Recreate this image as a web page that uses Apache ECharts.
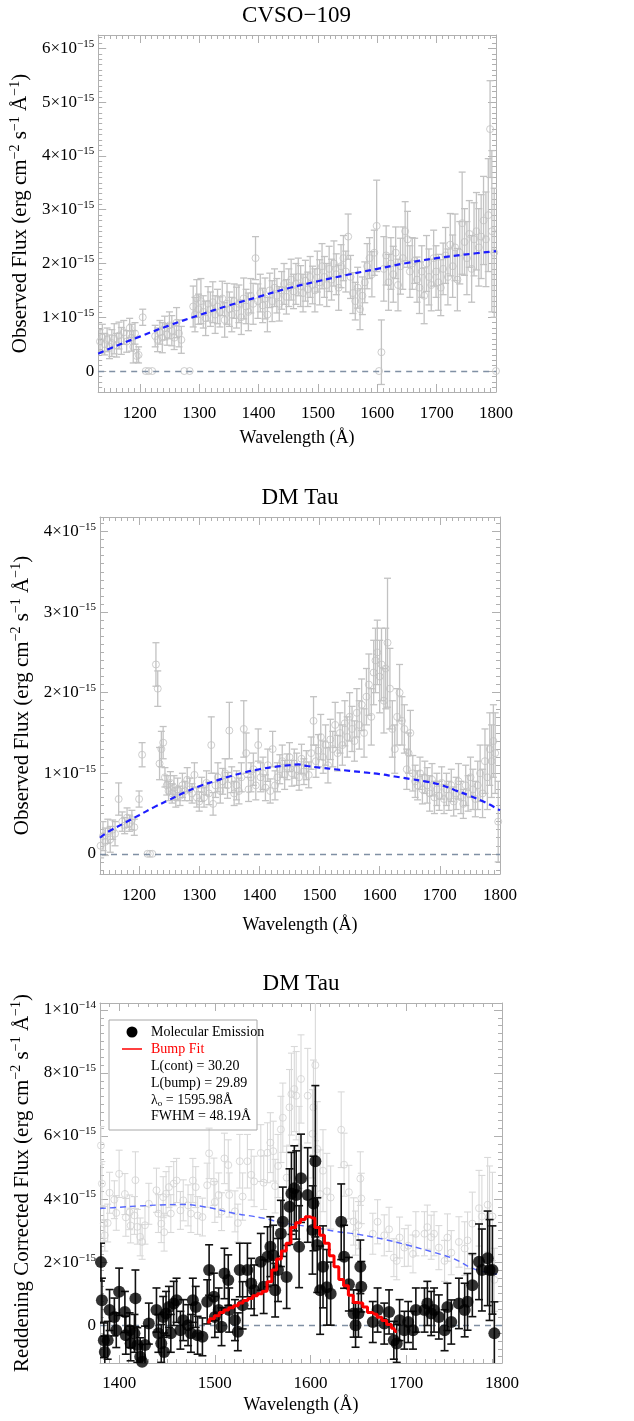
<!DOCTYPE html>
<html><head><meta charset="utf-8">
<script src="https://cdn.jsdelivr.net/npm/echarts@6/dist/echarts.min.js"></script>
<style>html,body{margin:0;padding:0;background:#fff}#c{width:634px;height:1421px}</style>
</head><body><div id="c"></div>
<script>
// ---------- Panel 1: CVSO-109 observed flux (units of 1e-15) ----------
const lam1 = [1133,1137,1141,1145,1149,1153,1157,1161,1165,1169,
1173,1178,1183,1186,1189,1192,1195,1198,1205,1210,
1215,1221,1226,1230,1234,1238,1242,1246,1250,1254,
1258,1262,1266,1270,1275,1284,1290,1293,1296,1299,
1303,1307,1311,1315,1319,1323,1327,1331,1335,1339,
1343,1347,1351,1355,1359,1363,1367,1371,1375,1379,
1383,1387,1391,1395,1399,1403,1407,1411,1415,1419,
1423,1427,1431,1435,1439,1443,1447,1451,1455,1459,
1463,1467,1471,1475,1479,1483,1487,1491,1495,1499,
1503,1507,1511,1515,1519,1523,1527,1531,1535,1539,
1543,1547,1551,1555,1559,1563,1567,1571,1575,1579,
1583,1587,1591,1595,1599,1603,1607,1611,1615,1619,
1623,1627,1631,1635,1639,1643,1647,1651,1655,1659,
1663,1667,1671,1675,1679,1683,1687,1691,1695,1699,
1703,1707,1711,1715,1719,1723,1727,1731,1735,1739,
1743,1747,1751,1755,1759,1763,1767,1771,1775,1779,
1783,1787,1790,1793,1797,1800];
const flux1 = [0.55,0.62,0.50,0.58,0.45,0.52,0.60,0.48,0.66,0.56,
0.72,0.55,0.80,0.62,0.45,0.70,0.28,0.30,1.00,0,
0,0,0.65,0.58,0.72,0.62,0.80,0.68,0.85,0.75,
0.62,0.90,0.70,0.58,0,0,1.20,1.05,1.35,1.15,
1.30,1.10,0.98,1.25,1.15,1.28,1.05,1.20,1.10,1.35,
0.95,1.25,1.15,1.05,1.30,1.18,1.25,1.00,1.35,1.20,
1.10,1.40,1.25,2.10,1.30,1.45,1.22,1.35,1.05,1.50,
1.30,1.55,1.40,1.25,1.50,1.62,1.38,1.55,1.70,1.48,
1.62,1.75,1.58,1.45,1.68,1.52,1.75,1.60,1.50,1.85,
1.65,1.95,1.75,1.60,1.90,1.70,2.00,1.80,1.55,1.95,
2.10,1.85,2.50,1.75,1.45,1.30,1.55,1.15,1.40,1.65,
1.95,2.10,1.80,2.20,2.70,0,0.35,1.90,2.15,1.65,
2.00,1.80,2.20,1.60,1.95,2.10,2.60,2.45,1.85,2.00,
2.05,1.70,1.55,1.85,1.40,2.00,1.75,1.60,2.10,1.85,
1.65,1.55,1.90,2.15,1.75,2.35,1.95,2.30,1.70,2.20,
2.75,2.40,2.10,2.55,1.90,2.45,2.60,2.30,2.50,2.80,
2.45,2.90,4.50,2.60,2.20,0];
const err1 = [0.22,0.25,0.20,0.22,0.22,0.25,0.28,0.22,0.25,0.25,
0.22,0.20,0.18,0.25,0.30,0.20,0.12,0.15,0.15,0,
0,0,0.20,0.22,0.22,0.28,0.22,0.20,0.25,0.28,
0.22,0.28,0.25,0.25,0,0,0.38,0.32,0.35,0.28,
0.42,0.30,0.32,0.32,0.32,0.38,0.35,0.32,0.28,0.32,
0.32,0.38,0.32,0.32,0.32,0.38,0.35,0.32,0.38,0.32,
0.35,0.32,0.38,0.40,0.32,0.35,0.32,0.38,0.32,0.32,
0.38,0.35,0.32,0.32,0.35,0.38,0.32,0.35,0.38,0.32,
0.38,0.35,0.38,0.35,0.38,0.32,0.38,0.35,0.40,0.38,
0.42,0.42,0.38,0.40,0.42,0.38,0.42,0.38,0.42,0.40,
0.42,0.38,0.42,0.40,0.38,0.35,0.38,0.38,0.35,0.38,
0.42,0.38,0.42,0.42,0.85,0,0.60,0.60,0.55,0.52,
0.48,0.52,0.48,0.48,0.52,0.58,0.55,0.52,0.48,0.48,
0.42,0.42,0.48,0.48,0.52,0.52,0.52,0.48,0.52,0.48,
0.52,0.52,0.48,0.52,0.52,0.58,0.58,0.62,0.58,0.58,
0.95,0.62,0.68,0.62,0.62,0.68,0.72,0.72,0.78,0.82,
0.88,1.05,0.90,1.50,1.20,0];
const contLam1 = [1130,1150,1200,1250,1300,1350,1400,1450,1500,1550,1600,1650,1700,1750,1800];
const cont1 = [0.32,0.42,0.64,0.85,1.04,1.22,1.38,1.54,1.67,1.79,1.90,2.01,2.10,2.17,2.23];

// ---------- Panel 2: DM Tau observed flux (units of 1e-15) ----------
const lam2 = [1136,1140,1144,1148,1152,1156,1160,1166,1172,1176,
1180,1184,1188,1192,1200,1205,1214,1218,1222,1228,
1231,1234,1237,1240,1243,1246,1249,1252,1255,1258,
1261,1264,1268,1272,1276,1280,1284,1288,1292,1296,
1300,1304,1308,1312,1316,1320,1323,1327,1331,1335,
1339,1343,1347,1350,1354,1358,1362,1366,1370,1374,
1378,1382,1386,1390,1394,1398,1402,1406,1410,1414,
1418,1422,1426,1430,1434,1438,1442,1446,1450,1454,
1458,1462,1466,1470,1474,1478,1482,1486,1490,1494,
1498,1502,1506,1510,1514,1518,1522,1526,1530,1534,
1538,1542,1546,1550,1554,1558,1562,1566,1570,1574,
1578,1582,1586,1590,1593,1596,1600,1603,1607,1610,
1613,1617,1621,1625,1629,1633,1637,1641,1645,1648,
1651,1655,1659,1663,1667,1671,1675,1679,1683,1687,
1691,1695,1699,1703,1707,1711,1715,1719,1723,1727,
1731,1735,1739,1743,1747,1751,1755,1759,1763,1767,
1771,1775,1779,1783,1786,1789,1792,1797];
const flux2 = [0.10,0.22,0.15,0.28,0.18,0.30,0.25,0.68,0.40,0.35,
0.45,0.38,0.42,0.33,0.68,1.23,0,0,0,2.35,
2.05,1.12,1.30,1.38,0.95,0.85,0.78,0.88,0.75,0.82,
0.70,0.80,0.72,0.85,0.78,0.92,0.80,0.75,0.98,0.70,
0.65,0.80,0.70,0.88,0.75,1.35,0.62,0.85,0.95,0.78,
0.90,1.00,0.85,1.53,0.92,0.75,0.85,0.78,0.95,1.55,
1.25,0.80,0.95,1.05,0.85,1.35,0.95,1.00,0.82,1.10,
0.78,1.30,0.85,0.95,1.05,1.15,0.98,1.08,1.20,1.00,
1.12,1.05,0.95,1.18,1.02,1.10,0.98,1.25,1.65,1.15,
1.28,1.45,1.20,1.35,1.10,1.42,1.30,1.60,1.25,1.50,
1.35,1.62,1.45,1.70,1.55,1.40,1.75,1.60,1.85,1.50,
1.95,2.10,1.70,2.25,2.40,2.50,2.20,2.35,1.90,2.30,
2.62,2.05,1.55,1.30,1.70,2.00,1.65,1.55,1.05,1.25,
1.50,1.00,0.90,0.85,1.00,0.80,0.95,0.85,0.75,0.92,
0.70,0.80,0.72,0.88,0.68,0.80,0.72,0.85,0.65,0.75,
0.90,0.70,0.62,0.85,0.75,0.95,0.80,0.68,0.85,1.00,
0.75,1.15,0.95,1.30,1.15,1.40,1.25,0.40];
const err2 = [0.15,0.18,0.17,0.15,0.16,0.12,0.15,0.20,0.12,0.10,
0.12,0.10,0.12,0.10,0.10,0.15,0,0,0,0.27,
0.22,0.20,0.22,0.20,0.12,0.12,0.12,0.14,0.12,0.15,
0.12,0.14,0.12,0.15,0.12,0.15,0.14,0.12,0.15,0.12,
0.12,0.15,0.12,0.15,0.14,0.35,0.14,0.15,0.18,0.15,
0.16,0.18,0.16,0.35,0.16,0.15,0.18,0.16,0.18,0.35,
0.25,0.15,0.18,0.20,0.18,0.20,0.18,0.20,0.16,0.20,
0.15,0.22,0.18,0.18,0.18,0.20,0.18,0.16,0.18,0.16,
0.18,0.20,0.16,0.18,0.16,0.18,0.16,0.20,0.30,0.20,
0.20,0.28,0.20,0.25,0.22,0.25,0.22,0.28,0.22,0.25,
0.25,0.28,0.25,0.30,0.28,0.25,0.30,0.30,0.32,0.30,
0.35,0.38,0.35,0.40,0.40,0.40,0.45,0.45,0.40,0.50,
0.80,0.50,0.35,0.30,0.35,0.35,0.30,0.30,0.25,0.25,
0.28,0.22,0.20,0.18,0.20,0.18,0.20,0.22,0.22,0.20,
0.20,0.20,0.18,0.20,0.18,0.20,0.18,0.20,0.18,0.20,
0.22,0.20,0.18,0.25,0.22,0.25,0.25,0.22,0.30,0.35,
0.30,0.40,0.40,0.45,0.45,0.45,0.50,0.50];
const contLam2 = [1135,1150,1175,1200,1225,1250,1275,1300,1325,1350,1375,1400,1425,1450,1465,1480,1500,1525,1550,1575,1600,1625,1650,1675,1700,1725,1750,1775,1800];
const cont2 = [0.20,0.28,0.38,0.48,0.58,0.67,0.76,0.84,0.90,0.96,1.01,1.05,1.08,1.10,1.11,1.09,1.07,1.05,1.03,1.01,0.99,0.96,0.93,0.90,0.86,0.79,0.72,0.64,0.54];

// ---------- Panel 3: DM Tau reddening corrected (units of 1e-15) ----------
const lam3 = [1381,1382,1384,1385,1388,1390,1395,1397,1400,1406,
1407,1411,1412,1416,1417,1419,1422,1424,1427,1431,
1439,1441,1444,1446,1447,1449,1452,1454,1457,1460,
1464,1467,1472,1475,1477,1480,1482,1487,1492,1494,
1499,1500,1504,1507,1510,1514,1515,1521,1524,1526,
1529,1534,1538,1541,1548,1551,1555,1558,1561,1563,
1566,1569,1571,1575,1578,1580,1583,1585,1588,1590,
1597,1602,1603,1605,1607,1610,1613,1617,1621,1632,
1635,1640,1645,1647,1650,1652,1653,1665,1670,1677,
1682,1687,1690,1693,1698,1702,1707,1710,1719,1722,
1726,1729,1734,1740,1743,1747,1755,1761,1764,1769,
1776,1779,1785,1787,1790,1792];
const mol3 = [2.00,0.79,-0.48,-0.85,-0.48,0.48,0.26,-0.16,1.06,0.42,
-0.32,-0.16,-0.58,-0.26,0.85,-0.63,-1.00,-1.16,-0.63,0.05,
0.48,-0.26,-0.58,0.26,-0.85,0.37,0.58,-0.26,0.69,0.79,
-0.16,0.16,0.00,-0.26,0.79,0.58,-0.32,-0.37,0.74,1.75,
0.90,0.26,0.48,-0.05,1.64,1.43,0.48,0.16,-0.21,1.75,
0.63,1.75,1.32,1.11,2.01,1.22,2.17,2.49,2.22,1.11,
1.75,2.91,3.28,1.53,3.76,4.18,4.34,4.13,2.49,4.66,
4.13,3.02,3.86,5.20,2.54,1.11,1.85,1.20,1.00,3.28,
2.17,1.30,0.37,0.00,0.37,1.85,1.22,0.10,0.48,0.05,
0.42,-0.48,-0.58,0.16,-0.16,0.10,-0.16,0.48,0.48,0.69,
0.37,0.48,0.26,-0.16,0.58,0.10,0.69,0.48,0.74,1.27,
2.01,1.75,2.12,1.75,1.75,-0.26];
const err3 = [0.60,0.70,0.55,0.50,0.60,0.65,0.60,0.55,0.75,0.65,
0.60,0.55,0.55,0.60,0.90,0.55,0.60,0.55,0.60,0.65,
0.70,0.60,0.60,0.65,0.60,0.70,0.65,0.60,0.70,0.70,
0.60,0.65,0.65,0.60,0.70,0.65,0.60,0.60,0.70,0.80,
0.75,0.65,0.70,0.60,0.80,0.80,0.70,0.65,0.60,0.85,
0.75,0.85,0.80,0.80,0.90,0.85,0.95,0.95,0.95,0.85,
1.00,1.05,1.10,1.00,1.20,1.30,1.35,1.40,1.30,1.40,
1.50,1.40,1.50,2.40,1.50,1.40,1.30,1.20,1.00,1.20,
1.00,0.85,0.75,0.70,0.75,0.85,0.80,0.65,0.70,0.65,
0.70,0.60,0.60,0.65,0.60,0.65,0.60,0.70,0.70,0.70,
0.70,0.70,0.70,0.65,0.75,0.70,0.80,0.85,0.90,1.00,
1.20,1.30,1.50,1.60,1.40,1.00];
const gray3 = [5.70,4.49,3.22,2.85,3.24,4.20,3.98,3.56,4.80,4.16,
3.42,3.58,3.16,3.48,4.60,3.12,2.80,2.64,3.17,3.85,
4.28,3.54,3.22,4.06,2.95,4.17,4.38,3.54,4.49,4.59,
3.64,3.96,3.80,3.54,4.59,4.38,3.48,3.43,4.44,5.45,
4.55,3.91,4.13,3.60,5.29,5.08,4.13,3.61,3.24,5.20,
4.08,5.20,4.77,4.56,5.46,4.52,5.47,5.79,5.52,4.41,
5.05,6.21,6.58,4.68,6.91,7.33,7.49,7.28,5.64,7.81,
7.28,6.07,6.91,8.25,5.59,4.16,4.90,4.25,4.05,6.20,
5.09,4.22,3.29,2.92,3.17,4.65,4.02,2.90,3.28,2.85,
3.04,2.14,2.04,2.78,2.46,2.52,2.26,2.90,2.90,3.11,
2.79,2.90,2.46,2.04,2.78,2.30,2.64,2.43,2.69,3.22,
3.71,3.45,3.82,3.45,3.45,1.44];
const contLam3 = [1380,1400,1420,1440,1464,1490,1520,1550,1572,1600,1625,1650,1677,1700,1730,1750,1772,1795];
const cont3 = [3.70,3.74,3.78,3.81,3.83,3.75,3.55,3.40,3.24,3.12,2.98,2.88,2.72,2.55,2.30,2.10,1.77,1.62];
const bumpLam = [1492,1497,1502,1507,1512,1517,1522,1527,1532,1537,1542,1547,1552,1557,1562,1567,1572,1577,1582,1587,1592,1597,1602,1607,1612,1617,1622,1627,1632,1637,1642,1647,1652,1657,1662,1667,1672,1677,1682,1687,1690];
const bump = [0.10,0.20,0.30,0.40,0.48,0.55,0.62,0.70,0.78,0.85,0.93,1.00,1.08,1.38,1.75,2.10,2.35,2.60,3.10,3.25,3.35,3.44,3.40,3.10,2.85,2.60,2.20,1.85,1.45,1.25,0.95,0.72,0.70,0.58,0.40,0.35,0.25,0.15,0.02,-0.10,-0.20];

const titles = ['CVSO\u2212109', 'DM Tau', 'DM Tau'];
const legendStats = ['L(cont) = 30.20', 'L(bump) = 29.89', '1595.98\u00C5', 'FWHM = 48.19\u00C5'];

// ---------- layout / style ----------
const SERIF = '"Liberation Serif","Times New Roman",Times,serif';
const FRAME = '#b0b0b0';
const panels = [
  {grid:{left:97, top:35, width:399, height:357}, x:[1130,1800], y:[-0.39,6.25], yMinor:10,
   xLabelMargin:13, xNameGap:37, yNameGap:64, yName:'Observed Flux (erg cm', titleTop:3},
  {grid:{left:100, top:517, width:400, height:357}, x:[1135,1800], y:[-0.25,4.18], yMinor:10,
   xLabelMargin:13, xNameGap:42, yNameGap:62, yName:'Observed Flux (erg cm', titleTop:485},
  {grid:{left:100, top:1003, width:402, height:360}, x:[1380,1800], y:[-1.2,10.22], yMinor:8,
   xLabelMargin:12, xNameGap:33, yNameGap:62, yName:'Reddening Corrected Flux (erg cm', titleTop:971}
];

function yFmt(v) {
  if (Math.abs(v - Math.round(v)) > 1e-6) return '';
  if (Math.round(v) === 0) return '{b|0}';
  if (Math.round(v) === 10) return '{b|1\u00D710}{s|\u221214}';
  return '{b|' + Math.round(v) + '\u00D710}{s|\u221215}';
}
const labelRich = {
  b:{fontFamily:SERIF, fontSize:17, color:'#000'},
  s:{fontFamily:SERIF, fontSize:11, color:'#000', padding:[0,0,9,0]}
};
const nameRich = {
  n:{fontFamily:SERIF, fontSize:21, color:'#000'},
  s:{fontFamily:SERIF, fontSize:14, color:'#000', padding:[0,0,11,0]}
};

const tickCommon = (minorN) => ({
  splitLine:{show:false},
  axisLine:{show:true, onZero:false, lineStyle:{color:FRAME, width:1}},
  axisTick:{show:true, inside:true, length:8, lineStyle:{color:FRAME, width:1}},
  minorTick:{show:true, splitNumber:minorN, length:4, lineStyle:{color:FRAME, width:1}}
});

const xAxis = [], yAxis = [], grid = [], title = [];
panels.forEach((p, i) => {
  grid.push(Object.assign({containLabel:false}, p.grid));
  title.push({text:titles[i], left:p.grid.left + p.grid.width/2, top:p.titleTop, textAlign:'center', padding:0,
    textStyle:{fontFamily:SERIF, fontSize:23, fontWeight:'normal', color:'#000', lineHeight:26}});
  xAxis.push(Object.assign({type:'value', gridIndex:i, position:'bottom', min:p.x[0], max:p.x[1],
    name:'Wavelength (\u00C5)', nameLocation:'middle', nameGap:p.xNameGap,
    nameTextStyle:{fontFamily:SERIF, fontSize:18, color:'#000'},
    axisLabel:{show:true, margin:p.xLabelMargin, fontFamily:SERIF, fontSize:17, color:'#000',
      formatter:(v)=> (Math.abs(v % 100) < 1e-6 ? String(v) : '')}}, tickCommon(10)));
  xAxis.push(Object.assign({type:'value', gridIndex:i, position:'top', min:p.x[0], max:p.x[1],
    axisLabel:{show:false}}, tickCommon(10)));
  yAxis.push(Object.assign({type:'value', gridIndex:i, position:'left', min:p.y[0], max:p.y[1],
    name:'{n|' + p.yName + '}{s|\u22122}{n| s}{s|\u22121}{n| \u00C5}{s|\u22121}{n|)}',
    nameLocation:'middle', nameRotate:90, nameGap:p.yNameGap,
    nameTextStyle:{rich:nameRich},
    axisLabel:{show:true, margin:4, formatter:yFmt, rich:labelRich}}, tickCommon(p.yMinor)));
  yAxis.push(Object.assign({type:'value', gridIndex:i, position:'right', min:p.y[0], max:p.y[1],
    axisLabel:{show:false}}, tickCommon(p.yMinor)));
});

function errSeries(i, lam, val, err, color, cap, lw, z) {
  return {
    type:'custom', xAxisIndex:2*i, yAxisIndex:2*i, clip:true, silent:true, z:z,
    data: lam.map((l, k) => [l, val[k], err[k]]),
    encode:{x:0, y:1},
    renderItem:(params, api) => {
      const e = api.value(2);
      if (!e) return null;
      const x = api.value(0), y = api.value(1);
      const lo = api.coord([x, y - e]), hi = api.coord([x, y + e]);
      const st = {stroke:color, lineWidth:lw};
      return {type:'group', children:[
        {type:'line', shape:{x1:lo[0], y1:lo[1], x2:hi[0], y2:hi[1]}, style:st},
        {type:'line', shape:{x1:lo[0]-cap, y1:lo[1], x2:lo[0]+cap, y2:lo[1]}, style:st},
        {type:'line', shape:{x1:hi[0]-cap, y1:hi[1], x2:hi[0]+cap, y2:hi[1]}, style:st}
      ]};
    }
  };
}
function openPts(i, lam, val, color, size, z) {
  return {type:'scatter', xAxisIndex:2*i, yAxisIndex:2*i, silent:true, z:z,
    data: lam.map((l, k) => [l, val[k]]), symbol:'circle', symbolSize:size,
    itemStyle:{color:'rgba(255,255,255,0)', borderColor:color, borderWidth:1}};
}
function curve(i, lam, val, color, width, dash, z, name) {
  return {type:'line', name:name, xAxisIndex:2*i, yAxisIndex:2*i, silent:true, z:z, smooth:0.4,
    data: lam.map((l, k) => [l, val[k]]), symbol:'none', showSymbol:false,
    lineStyle:{color:color, width:width, type:dash}};
}
function zeroLine(i) {
  return {type:'line', xAxisIndex:2*i, yAxisIndex:2*i, data:[], silent:true, z:1,
    markLine:{silent:true, symbol:'none', label:{show:false}, animation:false,
      lineStyle:{color:'#8090a4', width:1.4, type:[6,5]}, data:[{yAxis:0}]}};
}

const series = [
  zeroLine(0),
  errSeries(0, lam1, flux1, err1, '#c2c2c2', 3.5, 1.3, 2),
  openPts(0, lam1, flux1, '#c2c2c2', 7, 3),
  curve(0, contLam1, cont1, '#1d1dff', 2.2, [6,4], 5, 'Continuum'),

  zeroLine(1),
  errSeries(1, lam2, flux2, err2, '#c2c2c2', 3.5, 1.3, 2),
  openPts(1, lam2, flux2, '#c2c2c2', 7, 3),
  curve(1, contLam2, cont2, '#1d1dff', 2.2, [6,4], 5, 'Continuum'),

  errSeries(2, lam3, gray3, err3, '#d9d9d9', 3.5, 1.1, 2),
  openPts(2, lam3, gray3, '#d2d2d2', 7, 3),
  curve(2, contLam3, cont3, '#5868ff', 1.4, [6,4], 4, 'Continuum'),
  zeroLine(2),
  errSeries(2, lam3, mol3, err3, '#111111', 4, 1.6, 6),
  {type:'scatter', name:'Molecular Emission', xAxisIndex:4, yAxisIndex:4, silent:true, z:7,
    data: lam3.map((l, k) => [l, mol3[k]]), symbol:'circle', symbolSize:12, itemStyle:{color:'#000'}},
  {type:'line', name:'Bump Fit', xAxisIndex:4, yAxisIndex:4, silent:true, z:8, step:'middle',
    data: bumpLam.map((l, k) => [l, bump[k]]), symbol:'none', showSymbol:false,
    lineStyle:{color:'#ff0000', width:3}}
];

const LX = 151, LF = 14;
const graphic = [
  {type:'rect', shape:{x:109, y:1020, width:148, height:110}, style:{fill:'none', stroke:'#a8a8a8', lineWidth:1}, z:20},
  {type:'circle', shape:{cx:132, cy:1032, r:5.5}, style:{fill:'#000'}, z:20},
  {type:'text', x:LX, y:1032, z:20, style:{text:'Molecular Emission', fontFamily:SERIF, fontSize:LF, fill:'#000', verticalAlign:'middle'}},
  {type:'line', shape:{x1:122, y1:1049, x2:142, y2:1049}, style:{stroke:'#ff0000', lineWidth:1.5}, z:20},
  {type:'text', x:LX, y:1049, z:20, style:{text:'Bump Fit', fontFamily:SERIF, fontSize:LF, fill:'#ff0000', verticalAlign:'middle'}},
  {type:'text', x:LX, y:1066, z:20, style:{text:legendStats[0], fontFamily:SERIF, fontSize:LF, fill:'#000', verticalAlign:'middle'}},
  {type:'text', x:LX, y:1083, z:20, style:{text:legendStats[1], fontFamily:SERIF, fontSize:LF, fill:'#000', verticalAlign:'middle'}},
  {type:'text', x:LX, y:1100, z:20, style:{text:'{a|\u03BB}{o|o}{a| = ' + legendStats[2] + '}', verticalAlign:'middle',
    rich:{a:{fontFamily:SERIF, fontSize:LF, fill:'#000', color:'#000'}, o:{fontFamily:SERIF, fontSize:9, color:'#000', padding:[7,0,0,0]}}}},
  {type:'text', x:LX, y:1116, z:20, style:{text:legendStats[3], fontFamily:SERIF, fontSize:LF, fill:'#000', verticalAlign:'middle'}}
];

const chart = echarts.init(document.getElementById('c'), null, {width:634, height:1421});
chart.setOption({
  animation:false,
  backgroundColor:'#fff',
  title, grid, xAxis, yAxis, series, graphic
});
</script></body></html>
